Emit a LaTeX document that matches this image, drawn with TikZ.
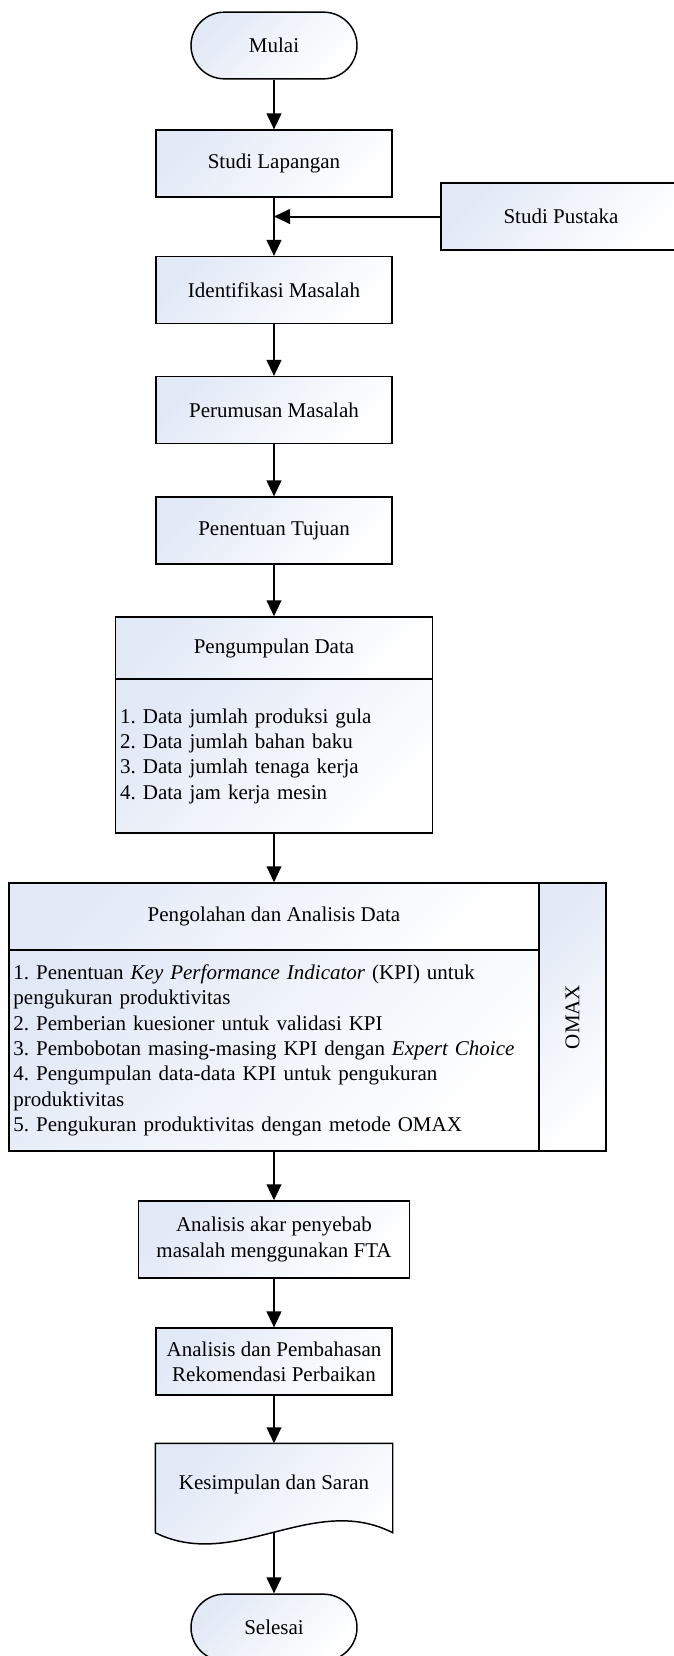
\documentclass[tikz,border=0pt]{standalone}
\usepackage{fontspec}
\setmainfont{Liberation Serif}
\usepackage{tikz}
\usetikzlibrary{arrows.meta,positioning}
\frenchspacing

\definecolor{fillblue}{RGB}{226,233,246}

\tikzset{
  boxfill/.style={top color=fillblue, bottom color=white, shading angle=45},
  flowbox/.style={draw, line width=1.1pt, boxfill, minimum width=177pt, minimum height=50pt,
    inner sep=3.5pt, align=center, font=\fontsize{15.75}{19}\selectfont},
  termbox/.style={flowbox, rounded corners=25pt, minimum width=124.5pt},
  listbox/.style={flowbox, align=left},
  flowarrow/.style={line width=1.5pt, -{Triangle[width=11pt,length=12pt]}},
}

\begin{document}
\begin{tikzpicture}[x=0.75pt,y=0.75pt,yscale=-1,xscale=1]
\useasboundingbox (0,0) rectangle (674,1656);

%Shape: Terminal [id:mulai]
\node[termbox] (mulai) at (274,45.5) {Mulai};
%Shape: Rectangle [id:lapangan]
\node[flowbox] (lapangan) at (274,163.5) {Studi Lapangan};
%Shape: Rectangle [id:pustaka]
\node[flowbox, minimum width=180pt] (pustaka) at (561,216.5) {Studi Pustaka};
%Shape: Rectangle [id:identifikasi]
\node[flowbox] (identifikasi) at (274,290) {Identifikasi Masalah};
%Shape: Rectangle [id:perumusan]
\node[flowbox] (perumusan) at (274,410) {Perumusan Masalah};
%Shape: Rectangle [id:tujuan]
\node[flowbox] (tujuan) at (274,530.5) {Penentuan Tujuan};

%Shape: Rectangle [id:datahead]
\node[flowbox, minimum width=237.75pt, minimum height=46.5pt] (datahead) at (274,648) {Pengumpulan Data};
%Shape: Rectangle [id:databody]
\node[listbox, text width=230.75pt, minimum height=115.5pt] (databody) at (274,756)
  {1. Data jumlah produksi gula\\
   2. Data jumlah bahan baku\\
   3. Data jumlah tenaga kerja\\
   4. Data jam kerja mesin};

%Shape: Rectangle [id:olahhead]
\node[flowbox, minimum width=397.8pt, minimum height=50.25pt] (olahhead) at (274,916.5) {Pengolahan dan Analisis Data};
%Shape: Rectangle [id:olahbody]
\node[listbox, text width=390.8pt, minimum height=150.75pt] (olahbody) at (274,1050.5)
  {1. Penentuan \textit{Key Performance Indicator} (KPI) untuk\\
   pengukuran produktivitas\\
   2. Pemberian kuesioner untuk validasi KPI\\
   3. Pembobotan masing-masing KPI dengan \textit{Expert Choice}\\
   4. Pengumpulan data-data KPI untuk pengukuran\\
   produktivitas\\
   5. Pengukuran produktivitas dengan metode OMAX};
%Shape: Rectangle [id:omax]
\node[flowbox, minimum width=50.25pt, minimum height=201pt] (omax) at (572.5,1017) {\rotatebox{90}{OMAX}};

%Shape: Rectangle [id:akar]
\node[flowbox, minimum width=203.25pt, minimum height=57.75pt] (akar) at (274,1239.5)
  {Analisis akar penyebab\\masalah menggunakan FTA};
%Shape: Rectangle [id:bahas]
\node[flowbox] (bahas) at (274,1361.5) {Analisis dan Pembahasan\\Rekomendasi Perbaikan};

%Shape: Document [id:kesimpulan]
\node[flowbox, draw=none, shade=false, fill=none, minimum height=66pt] (kesimpulan) at (274,1488) {};
\draw[line width=1.1pt, boxfill] (kesimpulan.south west) -- (kesimpulan.north west) -- (kesimpulan.north east) -- (kesimpulan.south east)
  .. controls (313,1492) and (235,1572) .. (kesimpulan.south west) -- cycle;
\node[font=\fontsize{15.75}{19}\selectfont] (kstext) at (274,1484) {Kesimpulan dan Saran};
\coordinate (ksout) at (274,1532);

%Shape: Terminal [id:selesai]
\node[termbox] (selesai) at (274,1627.5) {Selesai};

%Straight Lines
\draw[flowarrow] (mulai) -- (lapangan);
\draw[flowarrow] (lapangan) -- (identifikasi);
\coordinate (junction) at (lapangan.south |- pustaka.west);
\draw[flowarrow] (pustaka) -- (junction);
\draw[flowarrow] (identifikasi) -- (perumusan);
\draw[flowarrow] (perumusan) -- (tujuan);
\draw[flowarrow] (tujuan) -- (datahead);
\draw[flowarrow] (databody) -- (olahhead);
\draw[flowarrow] (olahbody) -- (akar);
\draw[flowarrow] (akar) -- (bahas);
\draw[flowarrow] (bahas) -- (kesimpulan);
\draw[flowarrow] (ksout) -- (selesai);

\end{tikzpicture}
\end{document}
